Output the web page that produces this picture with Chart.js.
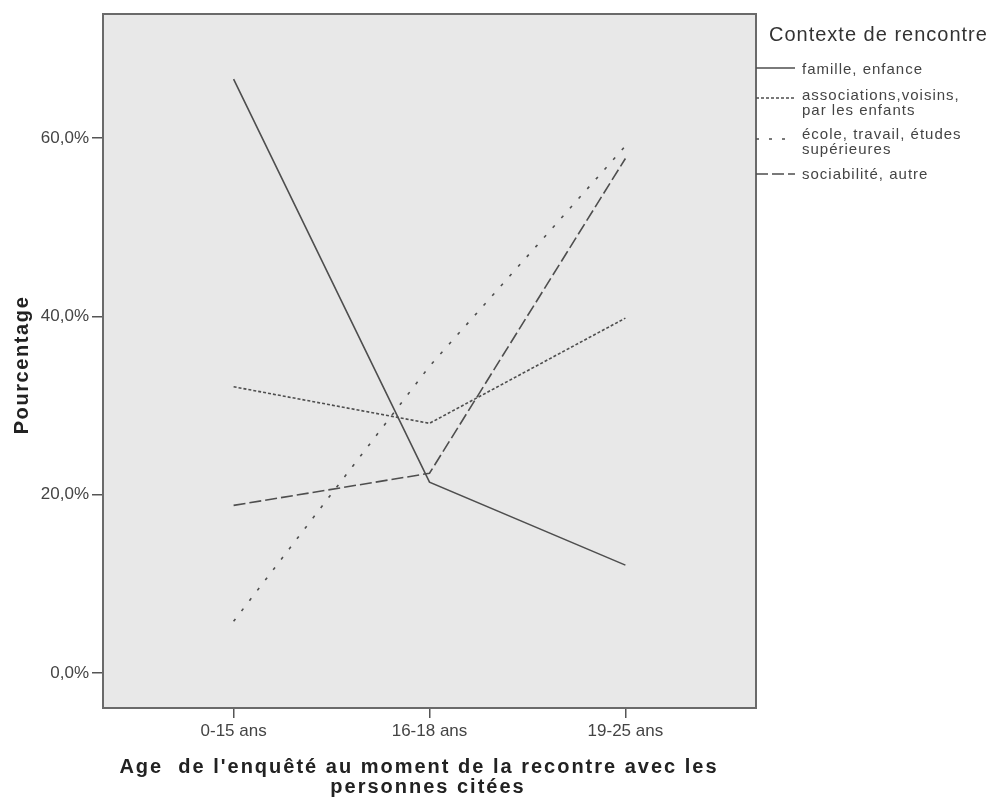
<!DOCTYPE html>
<html>
<head>
<meta charset="utf-8">
<script src="https://cdn.jsdelivr.net/npm/chart.js@4"></script>
<style>
html,body{margin:0;padding:0;background:#fff;}
#wrap{width:987px;height:798px;position:relative;}
</style>
</head>
<body>
<div id="wrap"><canvas id="c"></canvas></div>
<script>
const categories = ["0-15 ans", "16-18 ans", "19-25 ans"];
const seriesNames = ["famille, enfance", "associations,voisins, par les enfants", "école, travail, études supérieures", "sociabilité, autre"];
const legendLines = [["famille, enfance"], ["associations,voisins,", "par les enfants"], ["école, travail, études", "supérieures"], ["sociabilité, autre"]];
const famille = [66.6, 21.4, 12.1];
const associations = [32.1, 28.0, 39.8];
const ecole = [5.8, 34.4, 59.1];
const sociabilite = [18.8, 22.4, 57.7];
const yTicks = [0, 20, 40, 60];
const legendTitle = "Contexte de rencontre";
const xTitle = ["Age  de l'enquêté au moment de la recontre avec les", "personnes citées"];
const yTitle = "Pourcentage";

const allSeries = [famille, associations, ecole, sociabilite];
const dashes = [[], [3, 2], [3, 10], [12, 4]];
const lineColor = '#4e4e4e';
const FONT = "'Liberation Sans', Arial, sans-serif";

const datasets = allSeries.map((vals, si) => ({
  label: seriesNames[si],
  data: vals.map((v, i) => ({x: i, y: v})),
  borderColor: lineColor,
  borderWidth: 1.6,
  borderDash: dashes[si],
  pointRadius: 0,
  fill: false,
  tension: 0
}));

const framePlugin = {
  id: 'frame',
  beforeDatasetsDraw(chart) {
    const {ctx, chartArea: a} = chart;
    ctx.save();
    ctx.fillStyle = '#e8e8e8';
    ctx.fillRect(a.left, a.top, a.right - a.left, a.bottom - a.top);
    ctx.restore();
  },
  afterDraw(chart) {
    const {ctx, chartArea: a} = chart;
    ctx.save();
    ctx.strokeStyle = '#6a6a6a';
    ctx.lineWidth = 2;
    ctx.strokeRect(a.left, a.top, a.right - a.left, a.bottom - a.top);

    // axis titles
    ctx.fillStyle = '#222';
    ctx.font = "bold 20px " + FONT;
    ctx.textBaseline = 'middle';
    ctx.textAlign = 'center';
    ctx.letterSpacing = '2px';
    ctx.fillText(xTitle[0], 419, 767);
    ctx.fillText(xTitle[1], 428, 787);
    ctx.letterSpacing = '1.6px';
    ctx.save();
    ctx.translate(22, 365);
    ctx.rotate(-Math.PI / 2);
    ctx.fillText(yTitle, 0, 0);
    ctx.restore();

    // legend
    const lx0 = a.right, lx1 = a.right + 39, tx = a.right + 46;
    const lineYs = [68, 98, 139, 174];
    const textYs = [[70], [96, 111], [135, 150], [175]];
    ctx.fillStyle = '#333';
    ctx.font = "20px " + FONT;
    ctx.textAlign = 'left';
    ctx.letterSpacing = '1px';
    ctx.fillText(legendTitle, a.right + 13, 35);
    ctx.font = "15px " + FONT;
    ctx.fillStyle = '#444';
    legendLines.forEach((lines, i) => {
      ctx.strokeStyle = lineColor;
      ctx.lineWidth = 1.6;
      ctx.setLineDash(dashes[i]);
      ctx.beginPath();
      ctx.moveTo(lx0, lineYs[i]);
      ctx.lineTo(lx1, lineYs[i]);
      ctx.stroke();
      ctx.setLineDash([]);
      lines.forEach((t, j) => ctx.fillText(t, tx, textYs[i][j]));
    });
    ctx.restore();
  }
};

new Chart(document.getElementById('c'), {
  type: 'line',
  data: {datasets},
  plugins: [framePlugin],
  options: {
    responsive: true,
    maintainAspectRatio: false,
    animation: false,
    layout: {padding: {left: 0, right: 231, top: 14, bottom: 0}},
    plugins: {legend: {display: false}, tooltip: {enabled: false}},
    scales: {
      x: {
        type: 'linear',
        min: -2 / 3,
        max: 8 / 3,
        afterBuildTicks(s) { s.ticks = categories.map((c, i) => ({value: i})); },
        afterFit(s) { s.height = 90; },
        ticks: {
          callback: (v) => categories[v],
          color: '#444',
          font: {family: FONT, size: 17},
          padding: 3,
          maxRotation: 0
        },
        grid: {drawOnChartArea: false, drawTicks: true, tickLength: 10, color: '#555', lineWidth: 1.5},
        border: {display: false}
      },
      y: {
        type: 'linear',
        min: -3.92,
        max: 73.9,
        afterBuildTicks(s) { s.ticks = yTicks.map(v => ({value: v})); },
        afterFit(s) { s.width = 103; },
        ticks: {
          callback: (v) => v.toFixed(1).replace('.', ',') + '%',
          color: '#444',
          font: {family: FONT, size: 17},
          padding: 3
        },
        grid: {drawOnChartArea: false, drawTicks: true, tickLength: 11, color: '#555', lineWidth: 1.5},
        border: {display: false}
      }
    }
  }
});
</script>
</body>
</html>
